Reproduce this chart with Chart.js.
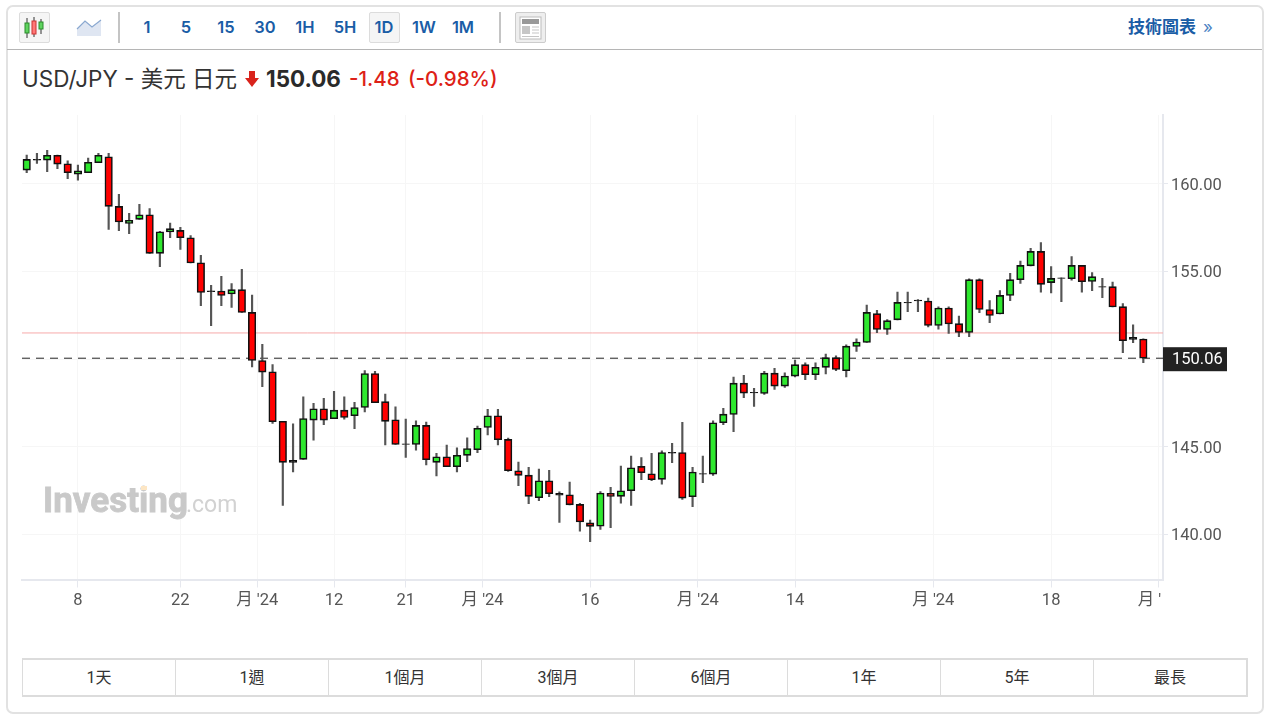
<!DOCTYPE html>
<html lang="zh-Hant">
<head>
<meta charset="utf-8">
<title>USD/JPY</title>
<script src="https://cdn.jsdelivr.net/npm/chart.js@4"></script>
<style>
    html, body { margin: 0; background: #fff; }
    body { width: 1270px; height: 719px; position: relative; overflow: hidden; font-family: Inter, "Noto Sans CJK TC", sans-serif; }
    .card { position: absolute; left: 6px; top: 5px; width: 1254px; height: 705px; border: 2px solid #e2e2e2; border-radius: 7px; }
    .abs { position: absolute; white-space: nowrap; }
    .rule { position: absolute; left: 7px; top: 49px; width: 1255px; height: 1px; background: #b5b5b5; }
    .sep { position: absolute; top: 12px; width: 2px; height: 31px; background: #c4c4c4; }
    .iv { top: 15px; width: 40px; margin-left: -20px; text-align: center; font-size: 16.5px; font-weight: 600; line-height: 24px; color: #1a5da6; }
    .box { position: absolute; top: 12px; height: 29px; background: #f5f5f5; border: 1px solid #dcdcdc; border-radius: 2px; }
    canvas { position: absolute; left: 0; top: 100px; }
    .ranges { position: absolute; left: 22px; top: 658px; width: 1223px; height: 35px; border: 1px solid #dcdcdc; border-width: 2px 2px 2px 1px; display: flex; }
    .ranges div { flex: 1; text-align: center; font: 16px/35px Roboto, "Noto Sans CJK TC", sans-serif; color: #333; border-left: 1px solid #dcdcdc; }
    .ranges div:first-child { border-left: 0; }
</style>
</head>
<body>
<div class="card"></div>
<div class="rule"></div>

<div class="box" style="left:19px;width:29px"></div>
<svg class="abs" style="left:22px;top:15px" width="26" height="26" viewBox="0 0 26 26">
    <path d="M5 3v20M12 2v20M19 4v15" stroke="#333" stroke-width="1"/>
    <rect x="3" y="8" width="4" height="10" fill="#5fd35f" stroke="#2a8a2a"/>
    <rect x="10" y="6" width="4" height="13" fill="#f77" stroke="#c33"/>
    <rect x="17" y="7" width="4" height="7" fill="#5fd35f" stroke="#2a8a2a"/>
</svg>
<svg class="abs" style="left:76px;top:18px" width="26" height="20" viewBox="0 0 26 20">
    <path d="M1 11L9 3L16 9L25 2V18H1Z" fill="#dfe6f2"/>
    <path d="M1 11L9 3L16 9L25 2" fill="none" stroke="#8aa8d0" stroke-width="1.2"/>
</svg>
<div class="sep" style="left:118px"></div>

<div class="box" style="left:369px;width:29px"></div>
<span class="abs iv" style="left:147px">1</span>
<span class="abs iv" style="left:186px">5</span>
<span class="abs iv" style="left:226px">15</span>
<span class="abs iv" style="left:265px">30</span>
<span class="abs iv" style="left:305px">1H</span>
<span class="abs iv" style="left:345px">5H</span>
<span class="abs iv" style="left:384px">1D</span>
<span class="abs iv" style="left:424px">1W</span>
<span class="abs iv" style="left:463px">1M</span>
<div class="sep" style="left:499px"></div>

<div class="box" style="left:515px;width:29px;background:#eee;border-color:#ccc"></div>
<svg class="abs" style="left:519px;top:16px" width="23" height="24" viewBox="0 0 23 24">
    <rect x="1" y="1" width="21" height="22" fill="#fff" stroke="#bbb"/>
    <rect x="3" y="3" width="17" height="5" fill="#999"/>
    <rect x="3" y="10" width="8" height="8" fill="#c6c6c6"/>
    <path d="M13 11h7M13 14h7M13 17h7M3 20.5h17" stroke="#c6c6c6" stroke-width="1.2"/>
</svg>

<span class="abs" style="left:1128px;top:15px;font-size:17px;font-weight:700;line-height:24px;color:#1a5da6">技術圖表</span>
<span class="abs" style="left:1203px;top:15px;font-size:17px;line-height:24px;color:#4b82c3">»</span>

<span class="abs" style="left:22px;top:66px;font-size:22.5px;line-height:26px;color:#333">USD/JPY - 美元 日元</span>
<svg class="abs" style="left:245px;top:71px" width="14" height="16" viewBox="0 0 14 16"><path d="M4 0h6v7h4L7 16 0 7h4z" fill="#d9231c"/></svg>
<span class="abs" style="left:266px;top:66px;font-size:22.4px;font-weight:700;line-height:26px;color:#2a2a2a">150.06</span>
<span class="abs" style="left:349px;top:66px;font-size:20.5px;font-weight:500;line-height:26px;color:#dd2116">-1.48</span>
<span class="abs" style="left:408px;top:66px;font-size:20.5px;font-weight:500;line-height:26px;color:#dd2116">(-0.98%)</span>

<canvas id="chart" width="1270" height="550"></canvas>

<div class="ranges" id="ranges"></div>

<script>
// candles, left to right
const opens = [
    160.79,161.35,161.36,161.63,161.15,160.56,160.64,161.21,161.55,158.72,
    157.75,157.98,158.24,156.04,157.26,157.35,156.93,155.50,153.90,153.89,
    153.72,153.97,152.67,149.93,149.29,146.46,144.23,144.29,146.53,147.18,
    146.61,147.10,146.78,147.25,149.19,147.58,146.55,145.18,145.14,146.23,
    144.12,144.44,143.87,144.52,144.84,146.11,146.78,145.43,143.64,143.39,
    142.10,143.07,142.35,142.27,141.72,140.67,140.48,142.35,142.18,142.50,
    143.89,143.47,143.15,144.69,144.68,142.16,143.48,143.45,146.38,146.85,
    148.64,148.12,148.05,149.21,148.47,149.04,149.69,149.12,149.54,150.09,
    149.35,150.73,150.96,152.60,151.70,152.25,153.25,153.37,153.32,151.93,
    152.92,152.03,151.53,154.54,152.84,152.58,153.64,154.54,155.33,156.15,
    154.37,154.65,154.59,155.35,154.44,154.15,154.14,153.00,151.25,151.15,
];
const closes = [
    161.40,161.40,161.63,161.13,160.64,160.75,161.23,161.63,158.72,157.83,
    157.92,158.24,156.04,157.27,157.45,156.93,155.49,153.81,153.86,153.64,
    153.97,152.67,149.93,149.27,146.44,144.12,144.12,146.62,147.18,146.53,
    147.10,146.68,147.25,149.19,147.52,146.46,145.14,145.14,146.23,144.27,
    144.44,143.87,144.52,144.91,146.06,146.78,145.41,143.64,143.38,142.18,
    143.07,142.33,142.25,141.70,140.72,140.47,142.37,142.18,142.50,143.81,
    143.53,143.13,144.68,144.65,142.08,143.57,143.44,146.38,146.87,148.64,
    148.07,148.08,149.21,148.47,149.04,149.69,149.12,149.54,150.09,149.42,
    150.75,150.98,152.67,151.70,152.20,153.24,153.21,153.33,151.93,152.92,
    152.01,151.53,154.54,152.84,152.50,153.64,154.54,155.35,156.15,154.27,
    154.61,154.61,155.35,154.42,154.71,154.11,152.98,151.06,151.13,150.06,
];
const highs = [
    161.65,161.74,161.91,161.65,161.32,161.08,161.48,161.74,161.74,159.40,
    158.32,158.83,158.59,157.29,157.77,157.52,157.05,155.92,154.21,154.73,
    154.31,155.13,153.66,150.85,149.70,146.46,146.32,147.86,147.48,147.77,
    148.17,147.86,147.54,149.35,149.31,148.02,147.29,146.59,146.49,146.42,
    144.63,145.11,144.95,145.52,146.19,147.14,147.14,145.50,144.14,143.83,
    143.74,143.66,142.44,143.00,141.78,140.83,142.46,142.69,143.91,144.48,
    144.40,144.63,144.78,145.20,146.40,143.83,144.48,146.49,147.20,148.98,
    149.08,148.34,149.31,149.48,149.23,149.95,149.80,149.80,150.30,150.20,
    150.83,151.17,153.09,152.79,152.27,153.83,153.83,153.41,153.49,152.99,
    152.99,152.46,154.59,154.59,153.34,153.91,154.90,155.60,156.32,156.65,
    155.28,154.65,155.85,155.35,154.95,154.61,154.40,153.17,151.97,151.17,
];
const lows = [
    160.64,161.17,160.70,160.87,160.30,160.22,160.64,161.21,157.41,157.33,
    157.16,157.98,156.04,155.28,156.93,156.27,155.49,153.05,151.91,153.05,
    152.96,152.67,149.57,148.43,146.34,141.66,143.58,144.29,145.39,146.27,
    146.61,146.59,146.04,146.99,147.52,145.12,145.14,144.40,144.82,143.98,
    143.34,143.87,143.58,144.16,144.67,145.69,145.12,143.60,142.79,141.76,
    141.93,142.16,140.69,141.70,140.20,139.60,140.29,140.39,141.80,141.66,
    143.13,143.07,142.88,144.10,142.00,141.59,142.96,143.37,146.27,145.87,
    147.81,147.31,147.99,148.28,148.40,149.00,148.83,148.83,149.16,149.35,
    149.00,150.45,150.96,151.51,151.42,152.25,152.71,152.71,151.85,151.72,
    151.48,151.29,151.29,152.65,152.08,152.58,153.34,154.33,155.33,153.83,
    153.78,153.28,154.51,153.83,153.91,153.51,152.98,150.37,150.94,149.80,
];

const xTickAt = [5, 15, 22.5, 30, 37, 44.5, 55, 65.5, 75, 88.5, 100, 110.5];
const xTickLabels = ["8", "22", "月 '24", "12", "21", "月 '24", "16", "月 '24", "14", "月 '24", "18", "月 '24"];
const ranges = ["1天", "1週", "1個月", "3個月", "6個月", "1年", "5年", "最長"];

const lastPrice = 150.06;
const prevClose = 151.5;
const X_MIN = -0.459, X_MAX = 110.92;
const Y_MIN = 137.44, Y_MAX = 163.93;

const UP = "#2ee82e", DOWN = "#ff0000", DOJI = "#222";
const FONT = "Roboto, 'Noto Sans CJK TC', sans-serif";

document.getElementById("ranges").innerHTML = ranges.map((r) => `<div>${r}</div>`).join("");

const xs = opens.map((_, i) => i);

// very thin bodies read as a dark dash, the fill does not show
function bodyColor(i) {
    if (Math.abs(closes[i] - opens[i]) < 0.15) return DOJI;
    return closes[i] >= opens[i] ? UP : DOWN;
}

// watermark goes under the candles, right-hand clip and price badge on top
const extras = {
    id: "extras",
    beforeDatasetsDraw(chart) {
        const { ctx } = chart;
        ctx.save();
        ctx.textBaseline = "alphabetic";
        ctx.fillStyle = "#c9c9c9";
        ctx.strokeStyle = "#c9c9c9";
        ctx.lineWidth = 0.8;
        ctx.font = "bold 35px Roboto, sans-serif";
        ctx.fillText("Investing", 43, 412);
        ctx.strokeText("Investing", 43, 412);
        ctx.fillStyle = "#d2d2d2";
        ctx.font = "23px Roboto, sans-serif";
        ctx.fillText(".com", 186, 412);
        ctx.fillStyle = "#fde6c4";
        ctx.fillRect(141, 386, 6, 4);
        ctx.restore();
    },
    afterDraw(chart) {
        const { ctx, chartArea, scales } = chart;
        ctx.save();
        ctx.fillStyle = "#fff";
        ctx.fillRect(chartArea.right - 2, chartArea.bottom + 9, 30, 30);
        const y = scales.y.getPixelForValue(lastPrice);
        ctx.fillStyle = "#222";
        ctx.fillRect(chartArea.right, y - 11, 64, 24);
        ctx.fillStyle = "#fff";
        ctx.font = "16.5px " + FONT;
        ctx.textBaseline = "middle";
        ctx.fillText(lastPrice.toFixed(2), chartArea.right + 9, y + 2);
        ctx.restore();
    },
};

new Chart(document.getElementById("chart"), {
    type: "bar",
    data: {
        datasets: [
            {
                label: "body",
                data: xs.map((i) => ({ x: i, y: [opens[i], closes[i]] })),
                backgroundColor: xs.map(bodyColor),
                borderColor: "#111",
                borderWidth: 1.6,
                borderSkipped: false,
                barThickness: 7.5,
                grouped: false,
            },
            {
                label: "wick",
                data: xs.map((i) => ({ x: i, y: [lows[i], highs[i]] })),
                backgroundColor: "#555",
                barThickness: 1.5,
                grouped: false,
            },
            {
                type: "line",
                label: "last",
                data: [{ x: X_MIN, y: lastPrice }, { x: X_MAX, y: lastPrice }],
                borderColor: "#222",
                borderWidth: 1,
                borderDash: [8, 6],
                pointRadius: 0,
            },
            {
                type: "line",
                label: "prev",
                data: [{ x: X_MIN, y: prevClose }, { x: X_MAX, y: prevClose }],
                borderColor: "#f7aaaa",
                borderWidth: 1,
                pointRadius: 0,
            },
        ],
    },
    options: {
        responsive: false,
        animation: false,
        events: [],
        layout: { padding: { left: 22, top: 15 } },
        plugins: { legend: { display: false }, tooltip: { enabled: false } },
        scales: {
            x: {
                type: "linear",
                offset: false,
                min: X_MIN,
                max: X_MAX,
                afterBuildTicks: (s) => { s.ticks = xTickAt.map((value) => ({ value })); },
                afterFit: (s) => { s.height = 70.5; },
                grid: { offset: false, color: "#f6f6f6", tickColor: "#e6e8ee", tickLength: 8 },
                border: { color: "#e6e8ee", width: 2 },
                ticks: {
                    autoSkip: false,
                    maxRotation: 0,
                    padding: 3,
                    color: "#555",
                    font: { family: FONT, size: 16.5 },
                    callback: (v, i) => xTickLabels[i],
                },
            },
            y: {
                position: "right",
                min: Y_MIN,
                max: Y_MAX,
                afterFit: (s) => { s.width = 107; },
                grid: { color: "#f6f6f6", tickColor: "#e6e8ee", tickLength: 5 },
                border: { color: "#e6e8ee", width: 2 },
                ticks: {
                    stepSize: 5,
                    includeBounds: false,
                    padding: 3,
                    labelOffset: 1.5,
                    color: "#555",
                    font: { family: FONT, size: 16.5 },
                    callback: (v) => v === 150 ? "" : v.toFixed(2),
                },
            },
        },
    },
    plugins: [extras],
});
</script>
</body>
</html>
